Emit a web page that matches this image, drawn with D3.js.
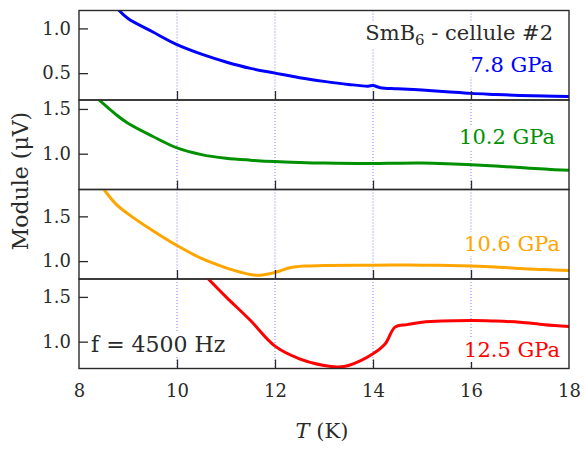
<!DOCTYPE html>
<html>
<head>
<meta charset="utf-8">
<script src="https://cdn.jsdelivr.net/npm/d3@7"></script>
<style>
  html, body { margin: 0; padding: 0; background: #fff; }
  svg { display: block; font-family: "DejaVu Serif", serif; }
</style>
</head>
<body>
<svg id="chart" width="584" height="450"></svg>
<script>
// ---- data ----
const xTicks = [8, 10, 12, 14, 16, 18];
const gridT = [10, 12, 14, 16];
const pressures = ["7.8 GPa", "10.2 GPa", "10.6 GPa", "12.5 GPa"];
const colors = ["#0000ff", "#009000", "#ffa500", "#ff0000"];
const panelDomains = [[0.2, 1.2], [0.6, 1.6], [0.8, 1.8], [0.7, 1.7]];
const panelTicks = [[0.5, 1.0], [1.0, 1.5], [1.0, 1.5], [1.0, 1.5]];

const T_78 = [8.82, 9.0, 9.5, 10.0, 10.5, 11.0, 11.5, 12.0, 12.5, 13.0, 13.5, 13.9, 14.0, 14.15, 14.5, 15.0, 15.5, 16.0, 16.5, 17.0, 17.5, 18.0];
const V_78 = [1.20, 1.11, 0.962, 0.818, 0.712, 0.625, 0.553, 0.500, 0.449, 0.408, 0.374, 0.355, 0.362, 0.338, 0.326, 0.312, 0.293, 0.274, 0.262, 0.251, 0.244, 0.24];

const T_102 = [8.41, 8.75, 9.0, 9.5, 10.0, 10.5, 11.0, 11.5, 12.0, 12.5, 13.0, 14.0, 14.5, 15.0, 15.5, 16.0, 16.5, 17.0, 17.5, 18.0];
const V_102 = [1.60, 1.44, 1.34, 1.195, 1.065, 0.99, 0.95, 0.928, 0.912, 0.902, 0.895, 0.89, 0.894, 0.895, 0.888, 0.876, 0.862, 0.846, 0.828, 0.814];

const T_106 = [8.51, 8.75, 9.0, 9.5, 10.0, 10.5, 11.0, 11.3, 11.5, 11.7, 11.9, 12.1, 12.3, 12.6, 13.0, 14.0, 15.0, 16.0, 16.5, 17.0, 17.5, 18.0];
const V_106 = [1.80, 1.64, 1.528, 1.342, 1.174, 1.03, 0.925, 0.876, 0.85, 0.842, 0.86, 0.89, 0.925, 0.945, 0.95, 0.955, 0.955, 0.945, 0.935, 0.917, 0.905, 0.895];

const T_125 = [10.64, 11.0, 11.5, 12.0, 12.5, 13.0, 13.3, 13.5, 14.0, 14.25, 14.45, 14.7, 15.0, 16.0, 16.5, 17.0, 17.5, 18.0];
const V_125 = [1.70, 1.50, 1.236, 0.95, 0.808, 0.733, 0.718, 0.733, 0.864, 0.976, 1.162, 1.19, 1.217, 1.236, 1.23, 1.217, 1.19, 1.17];

const seriesT = [T_78, T_102, T_106, T_125];
const seriesV = [V_78, V_102, V_106, V_125];

// ---- layout ----
const svg = d3.select("#chart");
const left = 79, right = 569, top0 = 10.5, ph = 89.5;
const x = d3.scaleLinear().domain([8, 18]).range([left, right]);
const ink = "#2a2a2a";

panelDomains.forEach((dom, i) => {
  const y0 = top0 + i * ph, y1 = y0 + ph;
  const y = d3.scaleLinear().domain(dom).range([y1, y0]);
  const g = svg.append("g");

  // dotted grid lines
  g.selectAll("line.grid").data(gridT).join("line")
    .attr("class", "grid")
    .attr("x1", d => x(d)).attr("x2", d => x(d))
    .attr("y1", y0).attr("y2", y1)
    .attr("stroke", "#7a7aff").attr("stroke-width", 1)
    .attr("stroke-dasharray", "1,2");

  g.append("defs").append("clipPath").attr("id", "clip" + i)
    .append("rect").attr("x", left).attr("y", y0).attr("width", right - left).attr("height", ph);

  const pts = seriesT[i].map((t, k) => [t, seriesV[i][k]]);
  g.append("path").datum(pts)
    .attr("clip-path", "url(#clip" + i + ")")
    .attr("fill", "none").attr("stroke", colors[i]).attr("stroke-width", 3)
    .attr("stroke-linejoin", "round").attr("stroke-linecap", "round")
    .attr("d", d3.line().x(d => x(d[0])).y(d => y(d[1])).curve(d3.curveCatmullRom.alpha(0.5)));

  // y axis (inward ticks)
  const ya = g.append("g").attr("transform", `translate(${left},0)`)
    .call(d3.axisLeft(y).tickValues(panelTicks[i]).tickSizeInner(-9).tickSizeOuter(0)
      .tickPadding(8).tickFormat(d3.format(".1f")));
  ya.select(".domain").remove();
  ya.selectAll(".tick line").attr("stroke", ink).attr("stroke-width", 1.3);
  ya.selectAll(".tick text").attr("font-family", "DejaVu Serif").attr("font-size", 18).attr("fill", ink);

  // x axis ticks at bottom of each panel
  const xa = g.append("g").attr("transform", `translate(0,${y1})`)
    .call(d3.axisBottom(x).tickValues(i === 3 ? xTicks : gridT).tickSizeInner(-9).tickSizeOuter(0)
      .tickPadding(16).tickFormat(i === 3 ? d3.format("d") : () => ""));
  xa.select(".domain").remove();
  xa.selectAll(".tick line").attr("stroke", ink).attr("stroke-width", 1.3)
    .filter(d => d === 8 || d === 18).remove();
  xa.selectAll(".tick text").attr("font-family", "DejaVu Serif").attr("font-size", 18).attr("fill", ink);

  // frame
  g.append("rect").attr("x", left).attr("y", y0).attr("width", right - left).attr("height", ph)
    .attr("fill", "none").attr("stroke", ink).attr("stroke-width", 1.4);
});

// ---- labels with white backing ----
function label(txt, xx, yy, anchor, color, size) {
  const g = svg.append("g");
  const bg = g.append("rect").attr("fill", "#fff");
  const t = g.append("text").attr("x", xx).attr("y", yy).attr("text-anchor", anchor)
    .attr("fill", color).attr("font-size", size);
  if (typeof txt === "function") txt(t); else t.text(txt);
  const b = t.node().getBBox();
  bg.attr("x", b.x - 2).attr("y", b.y).attr("width", b.width + 4).attr("height", b.height);
  return t;
}

label(t => {
  t.append("tspan").text("SmB");
  t.append("tspan").attr("font-size", 15).attr("dy", 5).text("6");
  t.append("tspan").attr("dy", -5).text(" - cellule #2");
}, 553, 40, "end", ink, 21);

const labelPos = [[553, 72], [555, 144], [560, 251], [560, 357]];
pressures.forEach((p, i) => label(p, labelPos[i][0], labelPos[i][1], "end", colors[i], 21));

label("f = 4500 Hz", 91, 352, "start", ink, 22);

// ---- axis titles ----
svg.append("text").attr("transform", "translate(28,181) rotate(-90)")
  .attr("text-anchor", "middle").attr("font-size", 22).attr("fill", ink)
  .text("Module (\u03bcV)");

const xt = svg.append("text").attr("x", 322).attr("y", 438).attr("text-anchor", "middle")
  .attr("font-size", 21).attr("fill", ink);
xt.append("tspan").attr("font-style", "italic").text("T");
xt.append("tspan").text(" (K)");
</script>
</body>
</html>
